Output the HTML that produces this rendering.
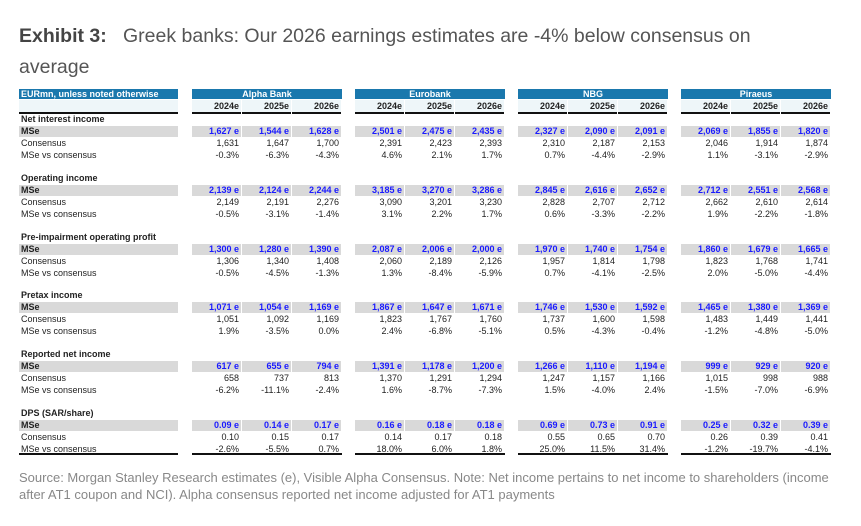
<!DOCTYPE html>
<html><head><meta charset="utf-8"><style>
body{margin:0;width:861px;height:526px;background:#fff;position:relative;overflow:hidden;font-family:"Liberation Sans",sans-serif}
.a{position:absolute;white-space:nowrap}
.t{font-size:9px;line-height:11px;color:#222}
.r{text-align:right}
</style></head><body>
<div class="a" style="left:19px;top:21px;font-size:19.5px;color:#555;line-height:31px;width:800px;white-space:normal"><b style="color:#444">Exhibit 3:</b>&nbsp;&nbsp;&nbsp;Greek banks: Our 2026 earnings estimates are -4% below consensus on average</div>
<div id="tbl"></div>
<div class="a" style="left:19px;top:469px;font-size:13px;line-height:17px;color:#888;width:830px;white-space:normal">Source: Morgan Stanley Research estimates (e), Visible Alpha Consensus. Note: Net income pertains to net income to shareholders (income after AT1 coupon and NCI). Alpha consensus reported net income adjusted for AT1 payments</div>
<script>
const banks=["Alpha Bank","Eurobank","NBG","Piraeus"];
const years=["2024e","2025e","2026e"];
const sections=["Net interest income","Operating income","Pre-impairment operating profit","Pretax income","Reported net income","DPS (SAR/share)"];
const mse=[
["1,627","1,544","1,628","2,501","2,475","2,435","2,327","2,090","2,091","2,069","1,855","1,820"],
["2,139","2,124","2,244","3,185","3,270","3,286","2,845","2,616","2,652","2,712","2,551","2,568"],
["1,300","1,280","1,390","2,087","2,006","2,000","1,970","1,740","1,754","1,860","1,679","1,665"],
["1,071","1,054","1,169","1,867","1,647","1,671","1,746","1,530","1,592","1,465","1,380","1,369"],
["617","655","794","1,391","1,178","1,200","1,266","1,110","1,194","999","929","920"],
["0.09","0.14","0.17","0.16","0.18","0.18","0.69","0.73","0.91","0.25","0.32","0.39"]];
const cons=[
["1,631","1,647","1,700","2,391","2,423","2,393","2,310","2,187","2,153","2,046","1,914","1,874"],
["2,149","2,191","2,276","3,090","3,201","3,230","2,828","2,707","2,712","2,662","2,610","2,614"],
["1,306","1,340","1,408","2,060","2,189","2,126","1,957","1,814","1,798","1,823","1,768","1,741"],
["1,051","1,092","1,169","1,823","1,767","1,760","1,737","1,600","1,598","1,483","1,449","1,441"],
["658","737","813","1,370","1,291","1,294","1,247","1,157","1,166","1,015","998","988"],
["0.10","0.15","0.17","0.14","0.17","0.18","0.55","0.65","0.70","0.26","0.39","0.41"]];
const diff=[
["-0.3%","-6.3%","-4.3%","4.6%","2.1%","1.7%","0.7%","-4.4%","-2.9%","1.1%","-3.1%","-2.9%"],
["-0.5%","-3.1%","-1.4%","3.1%","2.2%","1.7%","0.6%","-3.3%","-2.2%","1.9%","-2.2%","-1.8%"],
["-0.5%","-4.5%","-1.3%","1.3%","-8.4%","-5.9%","0.7%","-4.1%","-2.5%","2.0%","-5.0%","-4.4%"],
["1.9%","-3.5%","0.0%","2.4%","-6.8%","-5.1%","0.5%","-4.3%","-0.4%","-1.2%","-4.8%","-5.0%"],
["-6.2%","-11.1%","-2.4%","1.6%","-8.7%","-7.3%","1.5%","-4.0%","2.4%","-1.5%","-7.0%","-6.9%"],
["-2.6%","-5.5%","0.7%","18.0%","6.0%","1.8%","25.0%","11.5%","31.4%","-1.2%","-19.7%","-4.1%"]];
const T=document.getElementById('tbl');
function div(style,cls,txt){const d=document.createElement('div');d.className='a '+(cls||'');d.style.cssText=style;if(txt!=null)d.textContent=txt;T.appendChild(d);return d;}
const bankX=b=>192+b*163, colX=(b,c)=>bankX(b)+c*50;
let d=div('left:19px;top:89px;width:159px;height:10px;background:#1a78ad;color:#fff;font-size:9px;line-height:10px;font-weight:bold;padding-left:2px;box-sizing:border-box','', 'EURmn, unless noted otherwise');

d=div('left:19px;top:100px;width:159px;height:12px;background:#eef6f9;border-bottom:2px solid #111');

banks.forEach((b,i)=>{
  let h=div('left:'+bankX(i)+'px;top:89px;width:150px;height:10px;background:#1a78ad;color:#fff;font-size:9px;line-height:10px;font-weight:bold;text-align:center','',b);
  
  years.forEach((y,c)=>{
    let e=div('left:'+colX(i,c)+'px;top:100px;height:12px;background:#eef6f9;border-bottom:2px solid #111;font-size:9px;line-height:13px;font-weight:bold;text-align:right;padding-right:2px;width:47px','t',y);
    
  });
  let bl=div('left:'+bankX(i)+'px;top:453px;width:150px;height:2px;background:#111');
  
});
let bl=div('left:19px;top:453px;width:159px;height:2px;background:#111');

sections.forEach((s,k)=>{
  const top=114+k*58.8;
  let e=div('left:21px;top:'+top+'px;font-weight:bold','t',s);
  
  e=div('left:19px;top:'+(top+12)+'px;width:159px;height:11px;background:#d9d9d9;font-weight:bold;padding-left:2px;box-sizing:border-box','t','MSe');
  
  e=div('left:21px;top:'+(top+24)+'px','t','Consensus');
  
  e=div('left:21px;top:'+(top+36)+'px','t','MSe vs consensus');
  
  for(let j=0;j<12;j++){
    const x=colX(Math.floor(j/3),j%3);
    e=div('left:'+x+'px;top:'+(top+12)+'px;width:47px;padding-right:2px;height:11px;background:#d9d9d9;color:#1a1aff;font-weight:bold','t r',mse[k][j]+' e');
    
    e=div('left:'+x+'px;top:'+(top+24)+'px;width:47px;padding-right:2px','t r',cons[k][j]);
    
    e=div('left:'+x+'px;top:'+(top+36)+'px;width:47px;padding-right:2px','t r',diff[k][j]);
    
  }
});
</script>
</body></html>
